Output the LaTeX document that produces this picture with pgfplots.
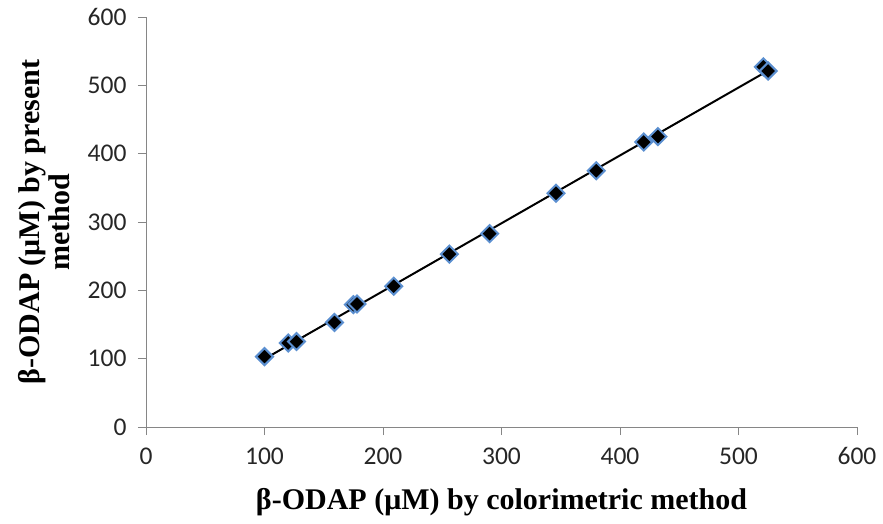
\documentclass[border=0pt]{standalone}
\usepackage{pgfplots}
\usepackage{pgfplotstable}
\pgfplotsset{compat=1.18}
\usepackage{fontspec}
\setmainfont{Liberation Serif}
\newfontfamily\tickfont{Carlito}
\definecolor{axisgray}{HTML}{868686}
\definecolor{markblue}{HTML}{5B8FD0}

\pgfplotstableread{
x y
100 103
120 123
127 125
159 153
175 179
178 180
209 206
256 253
290 283
346 342
380 375
420 417
432 425
521 527
525 521
}\odapdata

\begin{document}
\begin{tikzpicture}
\path[use as bounding box] (-146pt,-97pt) rectangle (737pt,427pt);
\begin{axis}[
  scale only axis,
  width=711pt, height=410pt,
  xmin=0, xmax=600, ymin=0, ymax=600,
  xtick={0,100,...,600}, ytick={0,100,...,600},
  axis lines=left,
  axis line style={axisgray, line width=0.8pt, -},
  tick style={axisgray, line width=0.8pt},
  tick align=outside,
  major tick length=8pt,
  /pgf/number format/assume math mode=true,
  ticklabel style={font=\tickfont\fontsize{25.5}{28}\selectfont, text=black!85},
  xticklabel style={yshift=-9pt},
  yticklabel style={xshift=-8pt},
  xlabel={β-ODAP (μM) by colorimetric method},
  ylabel={\begin{tabular}{@{}c@{}}β-ODAP (μM) by present\\method\end{tabular}},
  label style={font=\fontsize{30}{30}\selectfont\bfseries},
  xlabel style={at={(axis description cs:0.5,-0.2024)}, anchor=base},
  ylabel style={at={(axis description cs:-0.1378,0.5)}, anchor=center},
  clip=false,
]
% least-squares trend line through the measurements
\addplot[black, line width=2pt, forget plot]
  table[x=x, y={create col/linear regression={y=y}}] {\odapdata};
\addplot[only marks, mark=square*, mark size=6pt,
  mark options={rotate=45, fill=black, draw=markblue, line width=2pt}]
  table[x=x, y=y] {\odapdata};
\end{axis}
\end{tikzpicture}
\end{document}
